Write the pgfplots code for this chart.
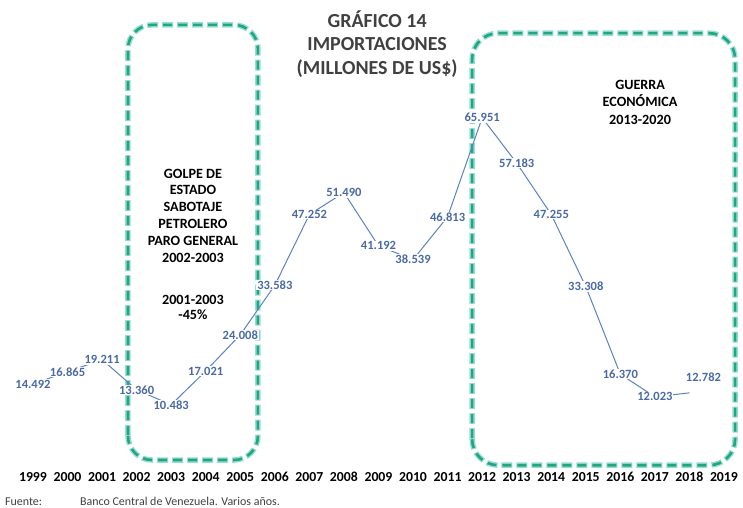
\documentclass[border=0pt]{standalone}
\usepackage{pgfplots}
\pgfplotsset{compat=1.18}
\usepackage{fontspec}
\setmainfont{Carlito}

\definecolor{lineblue}{HTML}{5B82C2}
\definecolor{labelblue}{HTML}{4A6AA5}
\definecolor{boxgreen}{HTML}{22A581}
\definecolor{boxglow}{HTML}{96DED4}
\definecolor{titlegray}{HTML}{404040}

\begin{document}
\begin{tikzpicture}[x=1bp,y=1bp]
\useasboundingbox (-15.7,-49) rectangle (727.3,459);
\begin{axis}[
  at={(0,0)}, anchor=south west,
  scale only axis,
  width=725.6bp, height=439.8bp,
  xmin=1998.5, xmax=2019.5, ymin=0, ymax=85,
  axis line style={draw=none},
  ytick=\empty,
  xtick={1999,...,2019},
  xticklabels={1999,2000,2001,2002,2003,2004,2005,2006,2007,2008,2009,2010,2011,2012,2013,2014,2015,2016,2017,2018,2019},
  major tick length=0pt,
  xticklabel style={font=\bfseries\fontsize{13.8}{14}\selectfont, text=black,
    anchor=base, inner sep=0pt, yshift=-23bp},
  clip=false,
]
  % boxes
  \draw[boxglow, line width=5.5bp, dash pattern=on 11bp off 4bp, rounded corners=24bp]
    (axis cs:2001.75,-0.2) rectangle (axis cs:2005.51,83.9);
  \draw[boxgreen, line width=2.6bp, dash pattern=on 9bp off 6bp, dash phase=-1bp, rounded corners=24bp]
    (axis cs:2001.75,-0.2) rectangle (axis cs:2005.51,83.9);
  \draw[boxglow, line width=5.5bp, dash pattern=on 11bp off 4bp, rounded corners=26bp]
    (axis cs:2011.71,-1.2) rectangle (axis cs:2019.32,82.3);
  \draw[boxgreen, line width=2.6bp, dash pattern=on 9bp off 6bp, dash phase=-1bp, rounded corners=26bp]
    (axis cs:2011.71,-1.2) rectangle (axis cs:2019.32,82.3);

  % series
  \addplot[lineblue, line width=1bp, mark=none] coordinates {
    (1999,14.492) (2000,16.865) (2001,19.211) (2002,13.360) (2003,10.483)
    (2004,17.021) (2005,24.008) (2006,33.583) (2007,47.252) (2008,51.490)
    (2009,41.192) (2010,38.539) (2011,46.813) (2012,65.951) (2013,57.183)
    (2014,47.255) (2015,33.308) (2016,16.370) (2017,12.023) (2018,12.782)
  };
  % data labels
  \addplot[draw=none, mark=none, point meta=explicit symbolic, nodes near coords,
    every node near coord/.append style={anchor=center, fill=white, inner sep=0.8bp,
      text=labelblue, font=\bfseries\fontsize{12.6}{12.6}\selectfont}]
    coordinates {
    (1999,14.492) [14.492] (2000,16.865) [16.865] (2001,19.211) [19.211]
    (2002,13.360) [13.360] (2003,10.483) [10.483] (2004,17.021) [17.021]
    (2005,24.008) [24.008] (2006,33.583) [33.583] (2007,47.252) [47.252]
    (2008,51.490) [51.490] (2009,41.192) [41.192] (2010,38.539) [38.539]
    (2011,46.813) [46.813] (2012,65.951) [65.951] (2013,57.183) [57.183]
    (2014,47.255) [47.255] (2015,33.308) [33.308] (2016,16.370) [16.370]
    (2017,12.023) [12.023]
  };
  \addplot[draw=none, mark=none, point meta=explicit symbolic, nodes near coords,
    every node near coord/.append style={anchor=center, xshift=14bp, yshift=16bp,
      inner sep=0.8bp, text=labelblue, font=\bfseries\fontsize{12.6}{12.6}\selectfont}]
    coordinates {(2018,12.782) [12.782]};

  % title
  \node[font=\bfseries\fontsize{20}{23.5}\selectfont, text=titlegray, align=center]
    at (axis cs:2008.96,80.2) {GRÁFICO 14\\IMPORTACIONES\\(MILLONES DE US\$)};

  % annotations
  \node[font=\bfseries\fontsize{14.2}{17}\selectfont, align=center]
    at (axis cs:2003.63,47.0) {GOLPE DE\\ESTADO\\SABOTAJE\\PETROLERO\\PARO GENERAL\\2002-2003};
  \node[font=\bfseries\fontsize{14.2}{16}\selectfont, align=center]
    at (axis cs:2003.63,29.3) {2001-2003\\-45\%};
  \node[font=\bfseries\fontsize{14.2}{17.5}\selectfont, align=center]
    at (axis cs:2016.57,69.0) {GUERRA\\ECONÓMICA\\2013-2020};

  % source
  \node[anchor=base west, font=\fontsize{12}{13}\selectfont, text=black!75, inner sep=0pt]
    at (axis cs:1998.19,-8.9) {Fuente:};
  \node[anchor=base west, font=\fontsize{12}{13}\selectfont, text=black!75, inner sep=0pt]
    at (axis cs:2000.36,-8.9) {Banco Central de Venezuela. Varios años.};
\end{axis}
\end{tikzpicture}
\end{document}
